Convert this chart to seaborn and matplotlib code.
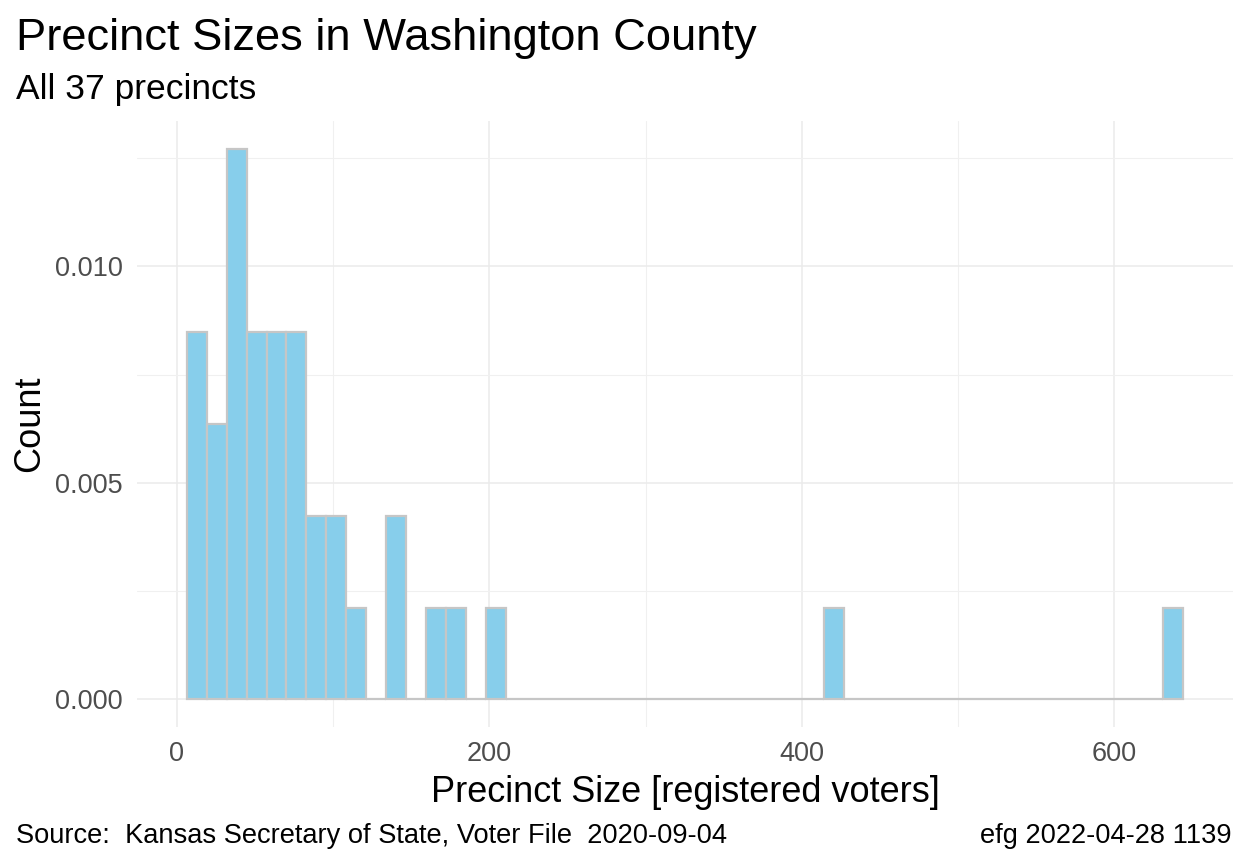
import numpy as np
import pandas as pd
import matplotlib
matplotlib.use("Agg")
import matplotlib.pyplot as plt
import seaborn as sns
from matplotlib.ticker import FixedLocator

# --- data: occupied histogram bins (bin midpoint, number of precincts) ---
bin_mid = [12.8, 25.5, 38.3, 51.0, 63.8, 76.5, 89.3, 102.0, 114.8,
           140.3, 165.8, 178.5, 204.0, 420.8, 637.5]
n_precincts = [4, 3, 6, 4, 4, 4, 2, 2, 1, 2, 1, 1, 1, 1, 1]
bin_range = (6.4, 644.0)
n_bins = 50

df = pd.DataFrame({"size": bin_mid, "n": n_precincts})

sns.set_theme(style="white")
plt.rcParams["font.family"] = ["Liberation Sans", "DejaVu Sans"]
plt.rcParams["text.color"] = "black"

fig = plt.figure(figsize=(12.48, 8.64), dpi=100)
ax = fig.add_axes([137 / 1248, 1 - 727 / 864, (1233 - 137) / 1248, (727 - 121) / 864])

sns.histplot(data=df, x="size", weights="n", bins=n_bins, binrange=bin_range,
             stat="density", color="#87CEEB", edgecolor="#C6C6C6",
             linewidth=1.6, alpha=1, ax=ax, zorder=3)

# ggplot-like expansion
span = bin_range[1] - bin_range[0]
ax.set_xlim(bin_range[0] - 0.05 * span, bin_range[1] + 0.05 * span)
ymax = max(n_precincts) / (sum(n_precincts) * span / n_bins)
ax.set_ylim(-0.05 * ymax, 1.05 * ymax)

ax.xaxis.set_major_locator(FixedLocator([0, 200, 400, 600]))
ax.xaxis.set_minor_locator(FixedLocator([100, 300, 500]))
ax.yaxis.set_major_locator(FixedLocator([0, 0.005, 0.010]))
ax.yaxis.set_minor_locator(FixedLocator([0.0025, 0.0075, 0.0125]))
ax.set_yticklabels(["0.000", "0.005", "0.010"])

ax.grid(which="major", color="#EBEBEB", linewidth=1.1, zorder=0)
ax.grid(which="minor", color="#F0F0F0", linewidth=0.8, zorder=0)
ax.set_axisbelow(True)
for s in ax.spines.values():
    s.set_visible(False)
ax.tick_params(which="both", length=0, pad=10, labelsize=19.5, labelcolor="#4D4D4D")

ax.set_xlabel("Precinct Size [registered voters]", fontsize=26, color="black", labelpad=6)
ax.set_ylabel("Count", fontsize=26, color="black", labelpad=5.5)

fig.text(16 / 1248, 1 - 50 / 864, "Precinct Sizes in Washington County",
         fontsize=32.6, va="baseline", ha="left")
fig.text(16 / 1248, 1 - 99 / 864, "All 37 precincts",
         fontsize=25.5, va="baseline", ha="left")
fig.text(16 / 1248, 1 - 843 / 864, "Source:  Kansas Secretary of State, Voter File  2020-09-04",
         fontsize=19.6, va="baseline", ha="left")
fig.text(1232 / 1248, 1 - 843 / 864, "efg 2022-04-28 1139",
         fontsize=19.6, va="baseline", ha="right")

fig.savefig("out.png", dpi=100, facecolor="white")
